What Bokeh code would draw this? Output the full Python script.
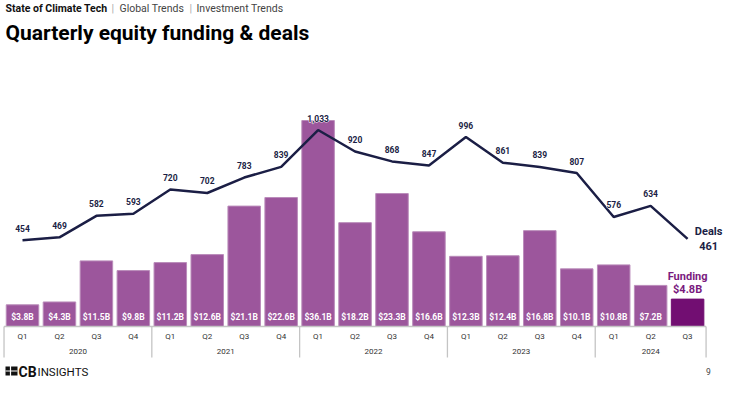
from bokeh.plotting import figure
from bokeh.models import Range1d, ColumnDataSource
from bokeh.embed import file_html
from bokeh.resources import INLINE
from bokeh.core.properties import value

# ---------------- data ----------------
quarters = ["Q1", "Q2", "Q3", "Q4",
            "Q1", "Q2", "Q3", "Q4",
            "Q1", "Q2", "Q3", "Q4",
            "Q1", "Q2", "Q3", "Q4",
            "Q1", "Q2", "Q3"]
years = ["2020", "2020", "2020", "2020",
         "2021", "2021", "2021", "2021",
         "2022", "2022", "2022", "2022",
         "2023", "2023", "2023", "2023",
         "2024", "2024", "2024"]
funding = [3.8, 4.3, 11.5, 9.8,
           11.2, 12.6, 21.1, 22.6,
           36.1, 18.2, 23.3, 16.6,
           12.3, 12.4, 16.8, 10.1,
           10.8, 7.2, 4.8]
deals = [454, 469, 582, 593,
         720, 702, 783, 839,
         1033, 920, 868, 847,
         996, 861, 839, 807,
         576, 634, 461]

# ---------------- layout ----------------
W, H = 724, 379
SLOT = 36.95         # px per quarter
X0PX = 22.0          # px of first bar centre
BASE_PY = 326.0      # px of baseline from top
PXU = 5.706          # px per $B
DEAL_RATIO = 30.0    # deals per $B on the shared baseline

FONT = "Roboto"
BAR = "#9C569C"
BAR_LINE = "#BA8CBA"
HILITE = "#720E72"
NAVY = "#1B1E45"
FUND_TXT = "#7A1A7E"
AXIS_GREY = "#C4C4C4"
LABEL_GREY = "#333333"

x_start = -X0PX / SLOT
x_end = (W - X0PX) / SLOT
y_end = BASE_PY / PXU
y_start = -(H - BASE_PY) / PXU


def xd(fx):
    return x_start + fx / SLOT


def yd(fy):
    return y_end - fy / PXU


p = figure(width=W, height=H,
           x_range=Range1d(x_start, x_end), y_range=Range1d(y_start, y_end),
           output_backend="svg", toolbar_location=None,
           x_axis_location=None, y_axis_location=None,
           min_border=0, outline_line_color=None,
           background_fill_color="white", border_fill_color="white")
p.grid.visible = False
p.extra_y_ranges = {"deals": Range1d(y_start * DEAL_RATIO, y_end * DEAL_RATIO)}

n = len(funding)
idx = list(range(n))
last = n - 1

# ---------------- axis box ----------------
groups = []
for i, yr in enumerate(years):
    if not groups or groups[-1][0] != yr:
        groups.append([yr, i, i])
    else:
        groups[-1][2] = i
bounds = [g[1] - 0.5 for g in groups] + [groups[-1][2] + 0.5]

p.segment(x0=bounds, y0=[0] * len(bounds), x1=bounds, y1=[yd(357)] * len(bounds),
          line_color=AXIS_GREY, line_width=1.3)

# ---------------- bars ----------------
bar_src = ColumnDataSource(dict(
    x=idx, top=funding,
    color=[HILITE if i == last else BAR for i in idx],
    lcolor=[HILITE if i == last else BAR_LINE for i in idx],
))
p.vbar(x="x", top="top", bottom=0, width=0.88, source=bar_src,
       fill_color="color", line_color="lcolor", line_width=1)

p.segment(x0=[bounds[0]], y0=[0], x1=[bounds[-1]], y1=[0],
          line_color=AXIS_GREY, line_width=1.5)

# ---------------- deals line ----------------
p.line(x=idx, y=deals, y_range_name="deals", line_color=NAVY, line_width=2.5)

# deal labels (white halo underneath, then navy text)
dl_src = ColumnDataSource(dict(
    x=idx[:-1], y=deals[:-1], t=[f"{d:,}" for d in deals[:-1]]))
p.text(x="x", y="y", text="t", source=dl_src, y_range_name="deals",
       text_align="center", text_baseline="middle", y_offset=-12,
       text_font=value(FONT), text_font_style="bold", text_font_size="8.5px",
       text_color="white", text_outline_color="white")
p.text(x="x", y="y", text="t", source=dl_src, y_range_name="deals",
       text_align="center", text_baseline="middle", y_offset=-12,
       text_font=value(FONT), text_font_style="bold", text_font_size="8.5px",
       text_color=NAVY)

# funding labels inside bars
fl_src = ColumnDataSource(dict(
    x=idx[:-1], y=[0] * (n - 1), t=[f"${v:.1f}B" for v in funding[:-1]]))
p.text(x="x", y="y", text="t", source=fl_src,
       text_align="center", text_baseline="middle", y_offset=-10,
       text_font=value(FONT), text_font_style="bold", text_font_size="8.5px",
       text_color="white")

# last-point callouts
p.text(x=[last, last], y=[deals[last], deals[last]], text=["Deals", f"{deals[last]}"],
       y_range_name="deals", x_offset=21, y_offset=[-7, 7],
       text_align="center", text_baseline="middle",
       text_font=value(FONT), text_font_style="bold", text_font_size="11px",
       text_color=NAVY)
p.text(x=[last, last], y=[funding[last], funding[last]],
       text=["Funding", f"${funding[last]:.1f}B"],
       y_offset=[-23, -10],
       text_align="center", text_baseline="middle",
       text_font=value(FONT), text_font_style="bold", text_font_size="11px",
       text_color=FUND_TXT)

# quarter and year labels
p.text(x=idx, y=[yd(336)] * n, text=quarters,
       text_align="center", text_baseline="middle",
       text_font=value(FONT), text_font_size="8px", text_color=LABEL_GREY)
p.text(x=[(g[1] + g[2]) / 2 for g in groups], y=[yd(351)] * len(groups),
       text=[g[0] for g in groups],
       text_align="center", text_baseline="middle",
       text_font=value(FONT), text_font_size="8px", text_color=LABEL_GREY)

# ---------------- header ----------------
p.text(x=[xd(5)], y=[yd(8)], text=["State of Climate Tech"],
       text_align="left", text_baseline="middle",
       text_font=value(FONT), text_font_style="bold", text_font_size="10.5px",
       text_color="#111111")
p.text(x=[xd(111), xd(189)], y=[yd(8)] * 2, text=["|", "|"],
       text_align="left", text_baseline="middle",
       text_font=value(FONT), text_font_size="10.5px", text_color="#AAAAAA")
p.text(x=[xd(119), xd(196)], y=[yd(8)] * 2, text=["Global Trends", "Investment Trends"],
       text_align="left", text_baseline="middle",
       text_font=value(FONT), text_font_size="10.5px", text_color="#444444")
p.text(x=[xd(5)], y=[yd(32)], text=["Quarterly equity funding & deals"],
       text_align="left", text_baseline="middle",
       text_font=value(FONT), text_font_style="bold", text_font_size="21px",
       text_color="#000000")

# ---------------- footer ----------------
LOGO_Y = 370.5
p.rect(x=[xd(11)], y=[yd(LOGO_Y)], width=12, height=9,
       width_units="screen", height_units="screen",
       fill_color="#111111", line_color=None)
p.segment(x0=[xd(5)], y0=[yd(LOGO_Y)], x1=[xd(17)], y1=[yd(LOGO_Y)],
          line_color="white", line_width=1.2)
p.segment(x0=[xd(10)], y0=[yd(LOGO_Y - 5)], x1=[xd(10)], y1=[yd(LOGO_Y + 5)],
          line_color="white", line_width=1.2)
p.text(x=[xd(18)], y=[yd(LOGO_Y + 0.5)], text=["CB"],
       text_align="left", text_baseline="middle",
       text_font=value(FONT), text_font_style="bold", text_font_size="14px",
       text_color="#111111")
p.text(x=[xd(37)], y=[yd(LOGO_Y + 0.5)], text=["INSIGHTS"],
       text_align="left", text_baseline="middle",
       text_font=value(FONT), text_font_size="11.5px", text_color="#111111")
p.text(x=[xd(708)], y=[yd(LOGO_Y)], text=["9"],
       text_align="center", text_baseline="middle",
       text_font=value(FONT), text_font_size="8.5px", text_color="#444444")

open("out.html", "w").write(file_html(p, INLINE))
